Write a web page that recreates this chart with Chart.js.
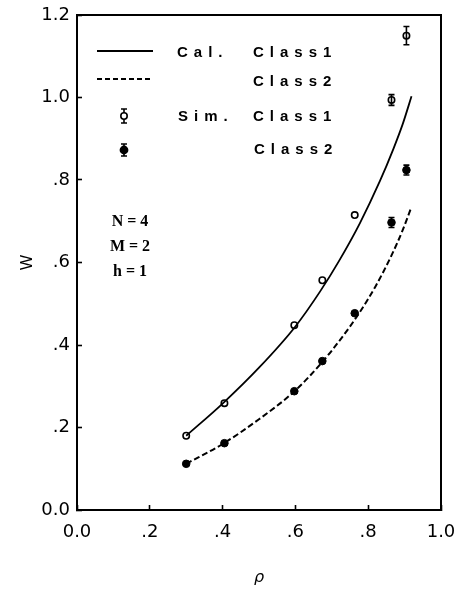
<!DOCTYPE html>
<html>
<head>
<meta charset="utf-8">
<script src="https://cdn.jsdelivr.net/npm/chart.js@4"></script>
<style>
    html, body { margin: 0; padding: 0; background: #fff; }
    #box { width: 460px; height: 589px; }
</style>
</head>
<body>
<div id="box"><canvas id="grafico" width="460" height="589"></canvas></div>
<script>
"use strict";

/********************************************************************
 * Data
 ********************************************************************/
const calRho1 = [0.30, 0.40, 0.50, 0.60, 0.668, 0.72, 0.777, 0.832, 0.869, 0.895, 0.919];
const calW1   = [0.180, 0.258, 0.345, 0.445, 0.530, 0.604, 0.695, 0.797, 0.875, 0.936, 1.003];

const calRho2 = [0.30, 0.40, 0.50, 0.60, 0.675, 0.725, 0.775, 0.82, 0.865, 0.895, 0.919];
const calW2   = [0.112, 0.160, 0.220, 0.290, 0.360, 0.415, 0.477, 0.542, 0.619, 0.679, 0.735];

const simRho  = [0.30, 0.405, 0.597, 0.674, 0.763, 0.864, 0.905];
const simW1   = [0.180, 0.259, 0.448, 0.557, 0.715, 0.994, 1.150];
const simW2   = [0.112, 0.162, 0.288, 0.361, 0.477, 0.697, 0.824];
const simErr1 = [0, 0, 0, 0, 0, 0.013, 0.022];
const simErr2 = [0, 0, 0, 0, 0, 0.012, 0.012];

const xTicks = [0, 0.2, 0.4, 0.6, 0.8, 1.0];
const yTicks = [0, 0.2, 0.4, 0.6, 0.8, 1.0, 1.2];

const params = ["N = 4", "M = 2", "h = 1"];

/********************************************************************
 * Helpers
 ********************************************************************/
function pares(xs, ys) {

    return xs.map((x, i) => ({ x: x, y: ys[i] }));

}

function rotulo(v) {

    if (v === 0) return "0.0";
    if (Math.abs(v - 1) < 1e-9) return "1.0";
    if (v > 1) return v.toFixed(1);

    return v.toFixed(1).replace(/^0/, "");

}

/********************************************************************
 * Error bars on the simulation points
 ********************************************************************/
const barrasErro = {

    id: "barrasErro",

    afterDatasetsDraw(chart) {

        const ctx = chart.ctx;
        const xs = chart.scales.x;
        const ys = chart.scales.y;

        const series = [[simW1, simErr1], [simW2, simErr2]];

        ctx.save();
        ctx.strokeStyle = "#000";
        ctx.lineWidth = 1.6;

        series.forEach(([vals, errs]) => {

            simRho.forEach((r, i) => {

                if (!errs[i]) return;

                const px = xs.getPixelForValue(r);
                const y1 = ys.getPixelForValue(vals[i] - errs[i]);
                const y2 = ys.getPixelForValue(vals[i] + errs[i]);

                ctx.beginPath();
                ctx.moveTo(px, y1);
                ctx.lineTo(px, y2);
                ctx.moveTo(px - 3, y1);
                ctx.lineTo(px + 3, y1);
                ctx.moveTo(px - 3, y2);
                ctx.lineTo(px + 3, y2);
                ctx.stroke();

            });

        });

        ctx.restore();

    }

};

/********************************************************************
 * Frame, legend and parameter text
 ********************************************************************/
const moldura = {

    id: "moldura",

    afterDraw(chart) {

        const ctx = chart.ctx;
        const a = chart.chartArea;

        ctx.save();

        // top and right border
        ctx.strokeStyle = "#000";
        ctx.lineWidth = 2;
        ctx.beginPath();
        ctx.moveTo(a.left, a.top);
        ctx.lineTo(a.right, a.top);
        ctx.lineTo(a.right, a.bottom);
        ctx.stroke();

        // legend lines
        const lx1 = a.left + 20;
        const lx2 = a.left + 76;

        ctx.lineWidth = 1.8;
        ctx.beginPath();
        ctx.moveTo(lx1, a.top + 36);
        ctx.lineTo(lx2, a.top + 36);
        ctx.stroke();

        ctx.setLineDash([5, 3]);
        ctx.beginPath();
        ctx.moveTo(lx1, a.top + 64);
        ctx.lineTo(lx2, a.top + 64);
        ctx.stroke();
        ctx.setLineDash([]);

        // legend markers
        const mx = a.left + 47;

        ctx.lineWidth = 1.6;
        [[a.top + 101, 7, false], [a.top + 135, 6, true]].forEach(([my, e, cheio]) => {

            ctx.beginPath();
            ctx.moveTo(mx, my - e);
            ctx.lineTo(mx, my + e);
            ctx.moveTo(mx - 3, my - e);
            ctx.lineTo(mx + 3, my - e);
            ctx.moveTo(mx - 3, my + e);
            ctx.lineTo(mx + 3, my + e);
            ctx.stroke();

            ctx.beginPath();
            ctx.arc(mx, my, cheio ? 3.6 : 3.2, 0, Math.PI * 2);
            ctx.fillStyle = cheio ? "#000" : "#fff";
            ctx.fill();
            ctx.stroke();

        });

        // legend text
        ctx.fillStyle = "#000";
        ctx.font = "bold 15px 'Liberation Sans', Arial, sans-serif";
        ctx.textBaseline = "middle";
        ctx.textAlign = "left";
        if ("letterSpacing" in ctx) ctx.letterSpacing = "6px";

        ctx.fillText("Cal.", a.left + 100, a.top + 38);
        ctx.fillText("Class1", a.left + 176, a.top + 38);
        ctx.fillText("Class2", a.left + 176, a.top + 67);
        ctx.fillText("Sim.", a.left + 101, a.top + 102);
        ctx.fillText("Class1", a.left + 176, a.top + 102);
        ctx.fillText("Class2", a.left + 177, a.top + 135);

        if ("letterSpacing" in ctx) ctx.letterSpacing = "0px";

        // parameters
        ctx.font = "bold 16px 'Liberation Serif', 'Times New Roman', serif";
        ctx.textAlign = "center";
        params.forEach((t, i) => {

            ctx.fillText(t, a.left + 53, a.top + 207 + i * 25);

        });

        ctx.restore();

    }

};

/********************************************************************
 * Chart
 ********************************************************************/
const fonteEixo = { family: "'DejaVu Sans', sans-serif", size: 18 };

new Chart(document.getElementById("grafico"), {

    type: "scatter",

    data: {

        datasets: [

            {
                label: "Cal. Class1",
                data: pares(calRho1, calW1),
                showLine: true,
                borderColor: "#000",
                borderWidth: 1.8,
                pointRadius: 0,
                cubicInterpolationMode: "monotone"
            },

            {
                label: "Cal. Class2",
                data: pares(calRho2, calW2),
                showLine: true,
                borderColor: "#000",
                borderWidth: 2,
                borderDash: [6, 3],
                pointRadius: 0,
                cubicInterpolationMode: "monotone"
            },

            {
                label: "Sim. Class1",
                data: pares(simRho, simW1),
                showLine: false,
                pointRadius: 3.2,
                pointBorderWidth: 1.6,
                pointBackgroundColor: "#fff",
                pointBorderColor: "#000"
            },

            {
                label: "Sim. Class2",
                data: pares(simRho, simW2),
                showLine: false,
                pointRadius: 3.8,
                pointBorderWidth: 1,
                pointBackgroundColor: "#000",
                pointBorderColor: "#000"
            }

        ]

    },

    options: {

        responsive: false,

        animation: false,

        layout: {
            padding: { top: 15, right: 19, left: 0, bottom: 0 }
        },

        plugins: {
            legend: { display: false },
            tooltip: { enabled: false }
        },

        scales: {

            x: {
                type: "linear",
                min: 0,
                max: 1,
                afterBuildTicks: s => { s.ticks = xTicks.map(v => ({ value: v })); },
                afterFit: s => {
                    s.height = 79;
                    s.paddingLeft = 0;
                    s.paddingRight = 0;
                },
                ticks: {
                    color: "#000",
                    font: fonteEixo,
                    padding: 17,
                    maxRotation: 0,
                    callback: v => rotulo(v)
                },
                grid: {
                    drawOnChartArea: false,
                    drawTicks: true,
                    tickLength: -5,
                    tickWidth: 1.6,
                    color: "#000"
                },
                border: { color: "#000", width: 2 },
                title: {
                    display: true,
                    text: "ρ",
                    color: "#000",
                    font: { family: "'DejaVu Sans', sans-serif", size: 16, style: "italic" },
                    padding: { top: 0, bottom: 2 }
                }
            },

            y: {
                type: "linear",
                min: 0,
                max: 1.2,
                afterBuildTicks: s => { s.ticks = yTicks.map(v => ({ value: v })); },
                afterFit: s => {
                    s.width = 77;
                    s.paddingTop = 0;
                    s.paddingBottom = 0;
                },
                ticks: {
                    color: "#000",
                    font: fonteEixo,
                    padding: 12,
                    callback: v => rotulo(v)
                },
                grid: {
                    drawOnChartArea: false,
                    drawTicks: true,
                    tickLength: -5,
                    tickWidth: 1.6,
                    color: "#000"
                },
                border: { color: "#000", width: 2 },
                title: {
                    display: true,
                    text: "W",
                    color: "#000",
                    font: { family: "'Liberation Sans', Arial, sans-serif", size: 16 },
                    padding: { top: 18, bottom: 0 }
                }
            }

        }

    },

    plugins: [barrasErro, moldura]

});
</script>
</body>
</html>
